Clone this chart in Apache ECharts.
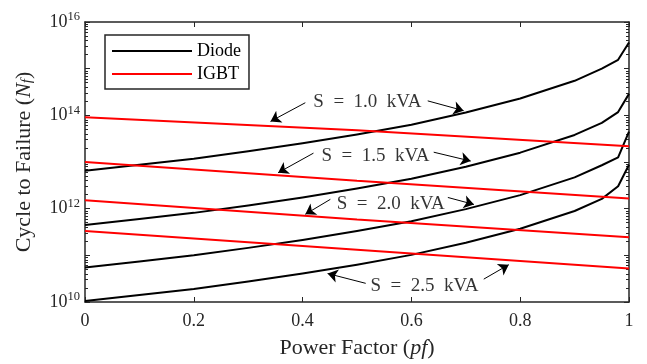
<!DOCTYPE html>
<html>
<head>
<meta charset="utf-8">
<script src="https://cdn.jsdelivr.net/npm/echarts@6/dist/echarts.min.js"></script>
<style>
  html, body { margin: 0; padding: 0; background: #fff; }
  #main { width: 647px; height: 364px; }
</style>
</head>
<body>
<div id="main"></div>
<script>
// power factor samples
var pf = [0, 0.1, 0.2, 0.3, 0.4, 0.5, 0.6, 0.7, 0.8, 0.9, 0.95, 0.98, 1];
// diode cycles to failure, log10(Nf)
var diode10 = [12.81, 12.94, 13.07, 13.23, 13.40, 13.59, 13.80, 14.06, 14.36, 14.74, 15.00, 15.19, 15.56];
var diode15 = [11.65, 11.78, 11.91, 12.07, 12.24, 12.43, 12.64, 12.90, 13.20, 13.58, 13.84, 14.07, 14.46];
var diode20 = [10.74, 10.87, 11.00, 11.16, 11.33, 11.52, 11.73, 11.99, 12.29, 12.67, 12.93, 13.10, 13.65];
var diode25 = [10.02, 10.15, 10.28, 10.44, 10.61, 10.80, 11.01, 11.27, 11.57, 11.95, 12.21, 12.48, 12.94];
// igbt, log10(Nf) at pf 0, 0.5, 1
var pfIgbt = [0, 0.5, 1];
var igbt10 = [13.96, 13.68, 13.34];
var igbt15 = [13.00, 12.60, 12.22];
var igbt20 = [12.18, 11.77, 11.39];
var igbt25 = [11.52, 11.12, 10.72];

var xTicks = ['0', '0.2', '0.4', '0.6', '0.8', '1'];
var labels = ['S  =  1.0  kVA', 'S  =  1.5  kVA', 'S  =  2.0  kVA', 'S  =  2.5  kVA'];

// annotation spots [pf, log10]
var labelPos = [[0.519, 14.29], [0.534, 13.13], [0.562, 12.09], [0.624, 10.34]];
var arrows = [
  [[0.405, 14.27], [0.341, 13.87]], [[0.630, 14.31], [0.696, 14.10]],
  [[0.420, 13.19], [0.355, 12.77]], [[0.641, 13.21], [0.709, 13.02]],
  [[0.451, 12.20], [0.405, 11.88]], [[0.667, 12.24], [0.715, 12.09]],
  [[0.516, 10.40], [0.446, 10.61]], [[0.733, 10.49], [0.779, 10.80]]
];

var FONT = 'Liberation Serif';
var AX = '#262626';

function pts(xs, ys) {
  return xs.map(function (x, i) { return [x, Math.pow(10, ys[i])]; });
}

var majors = [], minors = [];
for (var e = 10; e <= 16; e++) {
  majors.push(Math.pow(10, e));
  if (e < 16) for (var k = 2; k <= 9; k++) minors.push(k * Math.pow(10, e));
}

var supRich = {
  b: { fontFamily: FONT, fontSize: 18, color: AX },
  sup: { fontFamily: FONT, fontSize: 12.5, color: AX, padding: [0, 0, 10, 0] }
};

function yAx(pos, ticks, len, labelsOn, lineOn) {
  return {
    type: 'log', logBase: 10, min: 1e10, max: 1e16, position: pos,
    axisLine: { show: lineOn, lineStyle: { color: AX, width: 1.5 } },
    splitLine: { show: false },
    axisTick: { show: true, inside: true, length: len, customValues: ticks, lineStyle: { color: AX, width: 1 } },
    axisLabel: {
      show: labelsOn, margin: 5, customValues: [1e10, 1e12, 1e14, 1e16],
      formatter: function (v) { return '{b|10}{sup|' + Math.round(Math.log10(v)) + '}'; },
      rich: supRich
    }
  };
}

var series = [];
[diode10, diode15, diode20, diode25].forEach(function (d) {
  series.push({ name: 'Diode', type: 'line', data: pts(pf, d), showSymbol: false,
    lineStyle: { color: '#000', width: 2, join: 'round' }, itemStyle: { color: '#000' }, z: 2 });
});
[igbt10, igbt15, igbt20, igbt25].forEach(function (d) {
  series.push({ name: 'IGBT', type: 'line', data: pts(pfIgbt, d), showSymbol: false,
    lineStyle: { color: '#ff0000', width: 2 }, itemStyle: { color: '#ff0000' }, z: 3 });
});
series.push({
  type: 'lines', coordinateSystem: 'cartesian2d', z: 4,
  symbol: ['none', 'arrow'], symbolSize: [0, 10],
  lineStyle: { color: '#000', width: 1, opacity: 1 },
  data: arrows.map(function (a) { return { coords: pts([a[0][0], a[1][0]], [a[0][1], a[1][1]]) }; })
});
series.push({
  type: 'scatter', symbolSize: 0, z: 5,
  data: labelPos.map(function (p, i) { return { name: labels[i], value: [p[0], Math.pow(10, p[1])] }; }),
  label: { show: true, position: 'inside', formatter: '{b}', fontFamily: FONT, fontSize: 19, color: '#000' }
});

var chart = echarts.init(document.getElementById('main'));
chart.setOption({
  animation: false,
  backgroundColor: '#fff',
  grid: { left: 85, right: 18, top: 22, bottom: 58 },
  legend: {
    data: ['Diode', 'IGBT'], orient: 'vertical', left: 105, top: 35,
    itemWidth: 80, itemHeight: 2, itemGap: 5, icon: 'rect',
    borderColor: '#262626', borderWidth: 1.5, borderRadius: 0, padding: [7, 8, 6, 7],
    textStyle: { fontFamily: FONT, fontSize: 18, color: '#000' }
  },
  xAxis: [{
    type: 'value', min: 0, max: 1, interval: 0.2, position: 'bottom',
    name: 'Power Factor ({i|pf})', nameLocation: 'middle', nameGap: 35,
    nameTextStyle: { fontFamily: FONT, fontSize: 22, color: AX,
      rich: { i: { fontFamily: FONT, fontSize: 22, fontStyle: 'italic', color: AX } } },
    axisLine: { lineStyle: { color: AX, width: 1.5 } },
    axisTick: { inside: true, length: 5, lineStyle: { color: AX } },
    splitLine: { show: false },
    axisLabel: { margin: 10, fontFamily: FONT, fontSize: 18, color: AX,
      formatter: function (v) { return xTicks[Math.round(v / 0.2)]; } }
  }, {
    type: 'value', min: 0, max: 1, interval: 0.2, position: 'top',
    axisLine: { lineStyle: { color: AX, width: 1.5 } },
    axisTick: { inside: true, length: 5, lineStyle: { color: AX } },
    splitLine: { show: false }, axisLabel: { show: false }
  }],
  yAxis: [
    Object.assign(yAx('left', majors, 5, true, true), {
      name: 'Cycle to Failure ({i|N}{sub|f})', nameLocation: 'middle', nameGap: 50,
      nameTextStyle: { fontFamily: FONT, fontSize: 22, color: AX,
        rich: {
          i: { fontFamily: FONT, fontSize: 22, fontStyle: 'italic', color: AX },
          sub: { fontFamily: FONT, fontSize: 15, fontStyle: 'italic', color: AX, padding: [7, 0, 0, 0] }
        } }
    }),
    yAx('left', minors, 3, false, false),
    yAx('right', majors, 5, false, true),
    yAx('right', minors, 3, false, false)
  ],
  series: series
});
</script>
</body>
</html>
